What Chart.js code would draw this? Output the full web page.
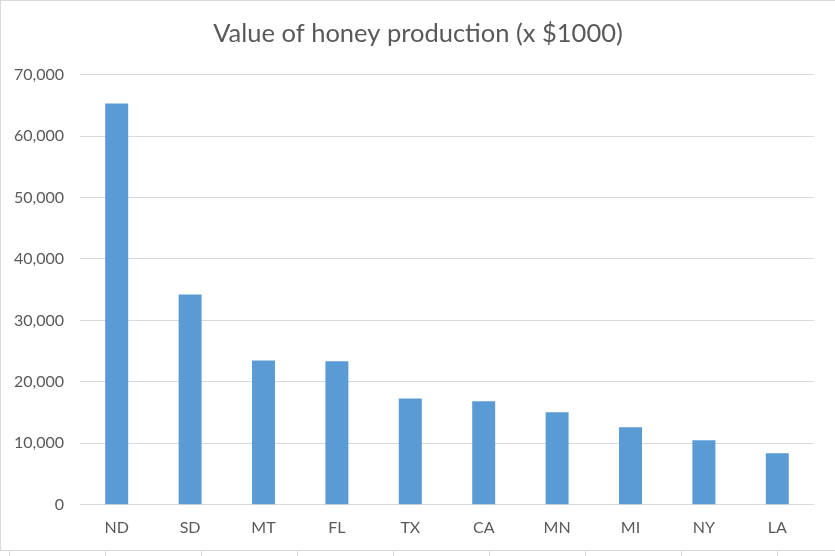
<!DOCTYPE html>
<html>
<head>
<meta charset="utf-8">
<script src="https://cdn.jsdelivr.net/npm/chart.js@4.4.1/dist/chart.umd.min.js"></script>
<style>
  html, body { margin: 0; padding: 0; background: #fff; }
  .frame {
    position: absolute; left: 0; top: 0; width: 835px; height: 551px;
    box-sizing: border-box; border-left: 1px solid #d9d9d9; border-top: 1px solid #d9d9d9;
    border-bottom: 1px solid #d9d9d9;
  }
  .frame canvas { position: absolute; left: 0; top: 0; }
  .cells {
    position: absolute; left: 0; top: 551px; width: 835px; height: 5px;
    background: repeating-linear-gradient(to right, transparent 0, transparent 9px, #d9d9d9 9px, #d9d9d9 10px, transparent 10px, transparent 96px);
  }
</style>
</head>
<body>
<div class="frame"><canvas id="chart" width="834" height="549"></canvas></div>
<div class="cells"></div>
<script>
const states = ['ND', 'SD', 'MT', 'FL', 'TX', 'CA', 'MN', 'MI', 'NY', 'LA'];
const honeyValue = [65300, 34200, 23500, 23350, 17300, 16850, 15070, 12600, 10500, 8400];
const yTicks = [0, 10000, 20000, 30000, 40000, 50000, 60000, 70000];

const grey = '#595959';

const ctx = document.getElementById('chart').getContext('2d');
new Chart(ctx, {
  type: 'bar',
  data: {
    labels: states,
    datasets: [{
      label: 'Value',
      data: honeyValue,
      backgroundColor: '#5b9bd5',
      borderWidth: 0,
      categoryPercentage: 1,
      barPercentage: 0.313
    }]
  },
  options: {
    responsive: false,
    animation: false,
    layout: { padding: 0 },
    plugins: {
      legend: { display: false },
      tooltip: { enabled: false },
      title: {
        display: true,
        text: 'Value of honey production (x $1000)',
        color: grey,
        font: { family: 'Lato', size: 25.5, weight: 'normal' },
        padding: { top: 17, bottom: 26 }
      }
    },
    scales: {
      x: {
        grid: { display: false, drawTicks: false },
        border: { display: false },
        ticks: {
          color: grey,
          font: { family: 'Lato', size: 16 },
          padding: 13
        }
      },
      y: {
        min: 0,
        max: 70000,
        afterFit: s => { s.width = 79; },
        afterBuildTicks: s => { s.ticks = yTicks.map(v => ({ value: v })); },
        grid: { color: '#d9d9d9', lineWidth: 1, drawTicks: false },
        border: { display: false },
        ticks: {
          color: grey,
          font: { family: 'Lato', size: 16 },
          padding: 16,
          callback: v => v.toLocaleString('en-US')
        }
      },
      // empty right-hand gutter so the title stays centred on the whole canvas
      gutter: {
        type: 'linear',
        position: 'right',
        grid: { display: false, drawTicks: false },
        border: { display: false },
        ticks: { display: false },
        afterFit: s => { s.width = 21; }
      }
    }
  }
});
</script>
</body>
</html>
